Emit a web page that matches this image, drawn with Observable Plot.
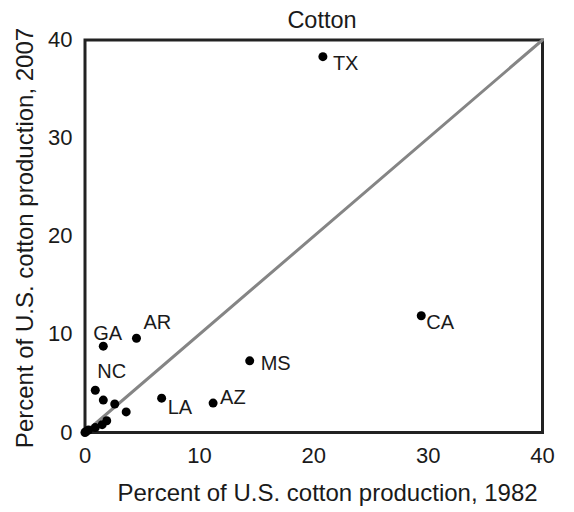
<!DOCTYPE html>
<html>
<head>
<meta charset="utf-8">
<script src="https://cdn.jsdelivr.net/npm/d3@7"></script>
<script src="https://cdn.jsdelivr.net/npm/@observablehq/plot@0.6"></script>
<style>
  html, body { margin: 0; padding: 0; background: #fff; }
  svg { display: block; }
</style>
</head>
<body>
<div id="chart"></div>
<script>
// Data
const states = ["TX", "CA", "MS", "AZ", "LA", "AR", "GA", "NC", "", "", "", "", "", "", "", "", ""];
const pct1982 = [20.8, 29.4, 14.4, 11.2, 6.7, 4.5, 1.6, 0.9, 1.6, 2.6, 3.6, 1.9, 1.5, 0.9, 0.3, 0.1, 0];
const pct2007 = [38.3, 11.9, 7.3, 3.0, 3.5, 9.6, 8.8, 4.3, 3.3, 2.9, 2.1, 1.2, 0.8, 0.5, 0.25, 0.1, 0];
const axisTicks = [0, 10, 20, 30, 40];
const diagonal = [0, 40];
const title = "Cotton";
const xTitle = "Percent of U.S. cotton production, 1982";
const yTitle = "Percent of U.S. cotton production, 2007";

const data = states.map((s, i) => ({state: s, x: pct1982[i], y: pct2007[i]}));

// label placement (styling)
const labelOffsets = {
  TX: [10, 6.5], CA: [5, 6.7], MS: [11, 2.7], AZ: [7, -5.7],
  LA: [6, 9.5], AR: [7, -16], GA: [-10, -12.3], NC: [2, -19]
};

const ink = "#1a1a1a";
const font = "'Liberation Sans', Arial, Helvetica, sans-serif";

const labelMarks = Object.entries(labelOffsets).map(([s, [dx, dy]]) =>
  Plot.text(data.filter(d => d.state === s), {
    x: "x", y: "y", text: "state", dx, dy,
    textAnchor: "start", lineAnchor: "middle", fontSize: 20, fill: ink
  })
);

const chart = Plot.plot({
  width: 574,
  height: 512,
  marginLeft: 84.5,
  marginRight: 32,
  marginTop: 39.5,
  marginBottom: 80,
  style: {fontFamily: font, fontSize: "22px", color: ink, background: "#fff"},
  x: {domain: [0, 40]},
  y: {domain: [0, 40]},
  marks: [
    Plot.axisX({ticks: axisTicks, tickSize: 0, tickPadding: 15, label: null, fontSize: 22, fill: ink}),
    Plot.axisY({ticks: axisTicks, tickSize: 0, tickPadding: 12.5, label: null, fontSize: 22, fill: ink}),
    Plot.frame({stroke: "#222", strokeWidth: 3}),
    Plot.line(diagonal, {x: d => d, y: d => d, stroke: "#858585", strokeWidth: 3}),
    Plot.dot(data, {x: "x", y: "y", r: 4.5, fill: "#000", stroke: "none"}),
    ...labelMarks,
    Plot.text([title], {frameAnchor: "top", dx: 8.25, dy: -19.8, textAnchor: "middle", lineAnchor: "middle", fontSize: 23.5, fill: ink}),
    Plot.text([xTitle], {frameAnchor: "bottom", dx: 13.75, dy: 61.3, textAnchor: "middle", lineAnchor: "middle", fontSize: 24, fill: ink}),
    Plot.text([yTitle], {frameAnchor: "left", dx: -59.5, dy: 1.75, rotate: -90, textAnchor: "middle", lineAnchor: "middle", fontSize: 24, fill: ink})
  ]
});

document.getElementById("chart").appendChild(chart);
</script>
</body>
</html>
